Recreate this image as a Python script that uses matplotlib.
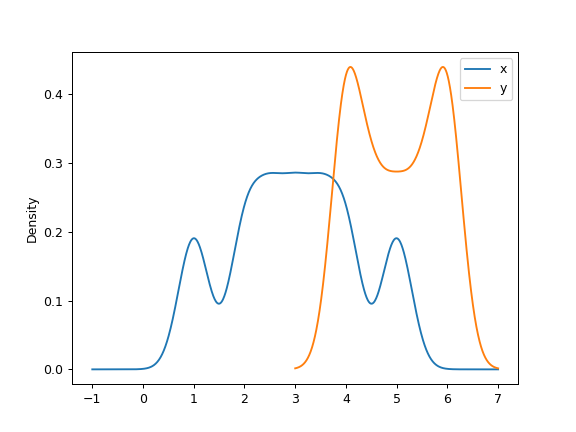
import numpy as np
import matplotlib
matplotlib.use("Agg")
import matplotlib.pyplot as plt

# Sample data (raw observations whose density is plotted)
x_data = [1, 2, 2.5, 3, 3.5, 4, 5]
y_data = [4, 4, 4.5, 5, 5.5, 6, 6]
series_names = ["x", "y"]
bandwidths = [0.30, 0.30]


def kde(data, bw, npts=1000):
    data = np.asarray(data, dtype=float)
    rng = data.max() - data.min()
    grid = np.linspace(data.min() - 0.5 * rng, data.max() + 0.5 * rng, npts)
    z = (grid[:, None] - data[None, :]) / bw
    dens = np.exp(-0.5 * z ** 2).sum(axis=1) / (len(data) * bw * np.sqrt(2 * np.pi))
    return grid, dens


fig, ax = plt.subplots(figsize=(6.4, 4.8), dpi=90)
for name, data, bw in zip(series_names, [x_data, y_data], bandwidths):
    g, d = kde(data, bw)
    ax.plot(g, d, label=name)

ax.set_ylabel("Density")
ax.legend(loc="upper right")
fig.savefig("out.png", dpi=90)
